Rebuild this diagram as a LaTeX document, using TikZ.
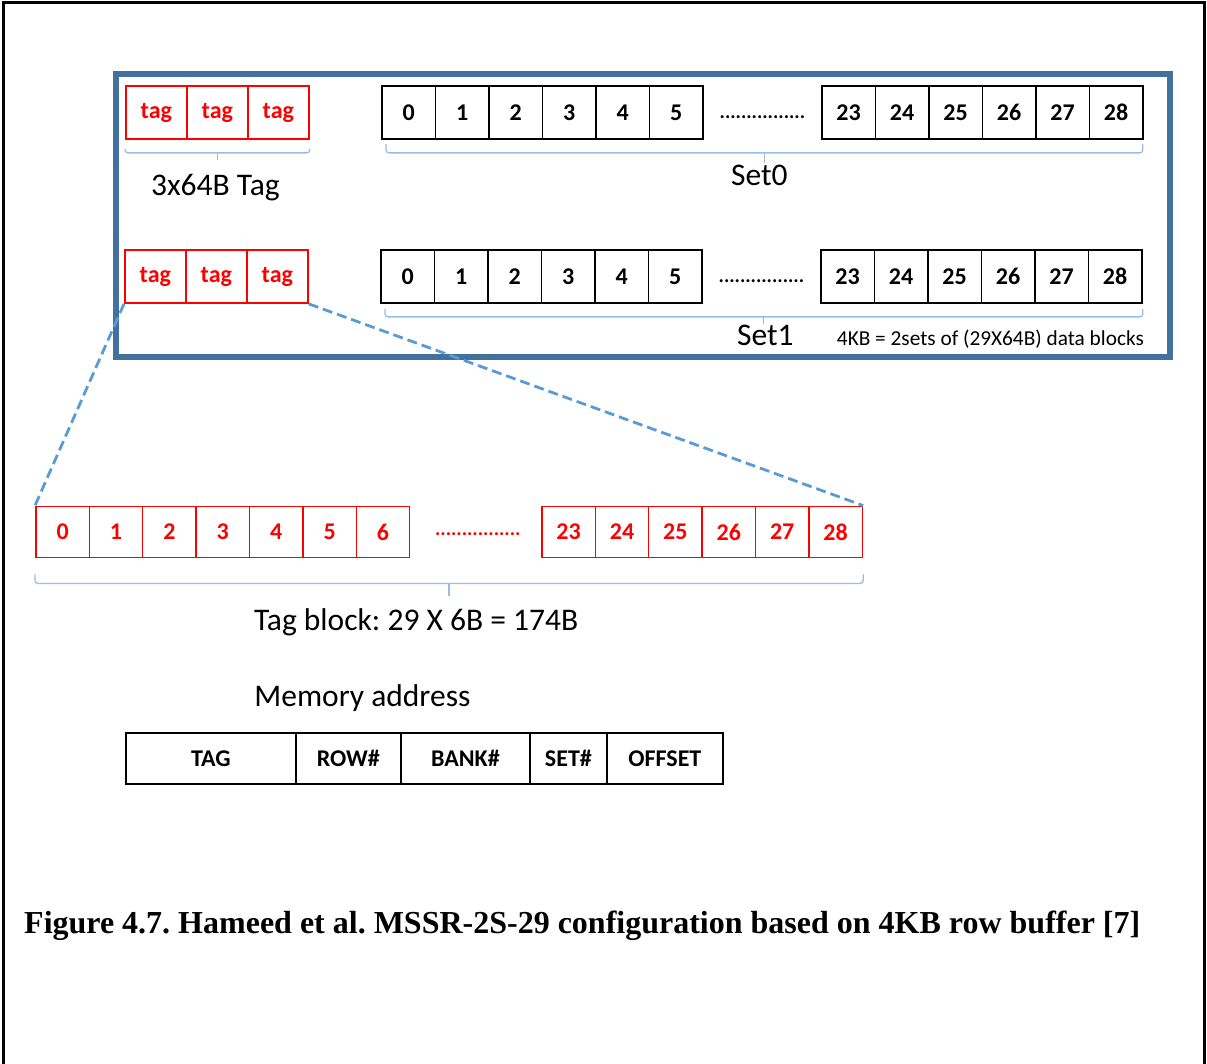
\documentclass[tikz,border=0pt]{standalone}
\usepackage{fontspec}
\setmainfont{Carlito}
\newfontfamily\capfont{Liberation Serif}
\usepackage{tikz}
\usetikzlibrary{matrix,calc,positioning}
\usepackage{xcolor}
\definecolor{frameblue}{RGB}{65,113,156}
\definecolor{linkblue}{RGB}{91,155,213}
\definecolor{bracketblue}{RGB}{150,190,228}
\definecolor{tagred}{RGB}{255,0,0}
\frenchspacing

\begin{document}
\begin{tikzpicture}[x=1pt,y=-1pt,
    cell/.style={draw,line width=1.4pt,inner sep=0pt,anchor=center,minimum width=53.5pt,minimum height=53pt,font=\fontsize{24}{28}\selectfont\bfseries},
    tagcell/.style={cell,draw=tagred,text=tagred,minimum width=61pt},
    redcell/.style={cell,draw=tagred,text=tagred,minimum width=53.4pt,minimum height=51pt},
    field/.style={cell,minimum height=51pt},
    row/.style={matrix of nodes,column sep=-1.4pt,inner sep=0pt,anchor=west},
    dots/.style={inner sep=0pt,font=\fontsize{20}{24}\selectfont\bfseries},
    bracket/.style={bracketblue,line width=1.3pt,rounded corners=3pt},
    biglabel/.style={inner sep=0pt,font=\fontsize{31.5}{36}\selectfont},
    link/.style={linkblue,line width=2.8pt,dash pattern=on 10pt off 5pt}]

            \useasboundingbox (0,0) rectangle (1207,1064);

            % page frame, open at the bottom
            \draw[line width=3pt] (3,1064) -- (3,3) -- (1204,3) -- (1204,1064);

            % 4KB row buffer
            \draw[frameblue,line width=6pt] (116,74) rectangle (1170,357);

            % set 0
            \matrix (tagsA) [row,nodes={tagcell}] at (125,112.5)
                {
                tag & tag & tag \\
                };
            \matrix (setA1) [row,nodes={cell}] at (381,112.5)
                {
                0 & 1 & 2 & 3 & 4 & 5 \\
                };
            \matrix (setA2) [row,nodes={cell}] at (821,112.5)
                {
                23 & 24 & 25 & 26 & 27 & 28 \\
                };
            \node[dots] (dotsA) at ($(setA1.east)!0.5!(setA2.west)+(0,4.5)$) {................};

            % set 1
            \matrix (tagsB) [row,nodes={tagcell}] at (124,276.5)
                {
                tag & tag & tag \\
                };
            \matrix (setB1) [row,nodes={cell}] at (380,276.5)
                {
                0 & 1 & 2 & 3 & 4 & 5 \\
                };
            \matrix (setB2) [row,nodes={cell}] at (820,276.5)
                {
                23 & 24 & 25 & 26 & 27 & 28 \\
                };
            \node[dots] (dotsB) at ($(setB1.east)!0.5!(setB2.west)+(0,4.5)$) {................};

            % brackets under the rows
            \draw[bracket] ($(tagsA.south west)+(0,9)$) |- ($(tagsA.south east)+(0,13)$) -- ++(0,-4);
            \draw[bracket] ($(tagsA.south)+(0,13)$) -- ++(0,7) coordinate (tickT);
            \node[biglabel] (taglabel) at ($(tickT)+(-2,28)$) {3x64B Tag};

            \draw[bracket] ($(setA1.south west)+(5,4)$) |- ($(setA2.south east)+(-1,13)$) -- ++(0,-9);
            \draw[bracket] ($(setA1.south west)!0.5!(setA2.south east)+(2,13)$) -- ++(0,10) coordinate (tickA);
            \node[biglabel] (setlabelA) at ($(tickA)+(-5,12)$) {Set0};

            \draw[bracket] ($(setB1.south west)+(5,5)$) |- ($(setB2.south east)+(0,13)$) -- ++(0,-8);
            \draw[bracket] ($(setB1.south west)!0.5!(setB2.south east)+(2,13)$) -- ++(0,7) coordinate (tickB);
            \node[biglabel] (setlabelB) at ($(tickB)+(2,11)$) {Set1};
            \node[inner sep=0pt,font=\fontsize{21.3}{25}\selectfont] (sizelabel) at ($(setB2.south)+(9,35)$) {4KB = 2sets of (29X64B) data blocks};

            % tag block
            \matrix (redA) [row,nodes={redcell}] at (35,532)
                {
                0 & 1 & 2 & 3 & 4 & 5 & 6 \\
                };
            \matrix (redB) [row,nodes={redcell}] at (541,532)
                {
                23 & 24 & 25 & 26 & 27 & 28 \\
                };
            \node[dots,text=tagred] (dotsR) at ($(redA.east)!0.5!(redB.west)+(2,2)$) {................};

            \draw[bracket] ($(redA.south west)+(0,16)$) |- ($(redB.south east)+(0,25)$) -- ++(0,-9);
            \draw[bracket] ($(redA.south west)!0.5!(redB.south east)+(0,25)$) -- ++(0,13) coordinate (tickR);
            \node[biglabel] (blocklabel) at ($(tickR)+(-33,26)$) {Tag block: 29 X 6B = 174B};

            % zoom from the tags of set 1
            \draw[link] (tagsB.south west) -- (redA.north west);
            \draw[link] (tagsB.south east) -- (redB.north east);

            % memory address
            \matrix (addr) [row,nodes={field}] at (125,758.5)
                {
                |[minimum width=170pt]| TAG & |[minimum width=105pt]| ROW\# & |[minimum width=129pt]| BANK\# & |[minimum width=77pt]| SET\# & |[minimum width=116pt]| OFFSET \\
                };
            \node[biglabel] (addrlabel) at ($(addr.north)+(-62,-34)$) {Memory address};

            \node[anchor=west,inner sep=0pt,font=\capfont\bfseries\fontsize{32}{36}\selectfont] (caption) at (24,926) {Figure 4.7. Hameed et al. MSSR-2S-29 configuration based on 4KB row buffer [7]};

\end{tikzpicture}
\end{document}
